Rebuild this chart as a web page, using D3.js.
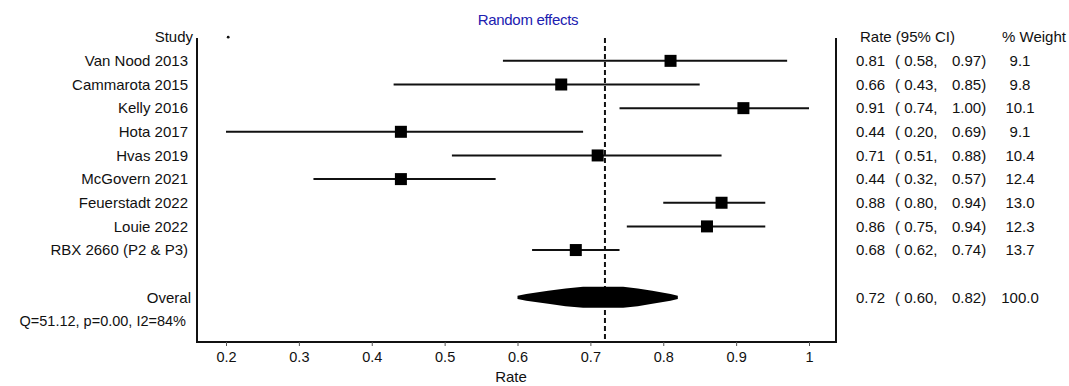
<!DOCTYPE html>
<html>
<head>
<meta charset="utf-8">
<script src="https://cdn.jsdelivr.net/npm/d3@7"></script>
<style>
  body { margin: 0; background: #fff; }
  svg { display: block; font-family: "Liberation Sans", Arial, sans-serif; }
  text { fill: #111; white-space: pre; }
</style>
</head>
<body>
<svg id="chart"></svg>
<script>
const STUDIES = ["Van Nood 2013", "Cammarota 2015", "Kelly 2016", "Hota 2017", "Hvas 2019",
  "McGovern 2021", "Feuerstadt 2022", "Louie 2022", "RBX 2660 (P2 & P3)"];
const RATES = [0.81, 0.66, 0.91, 0.44, 0.71, 0.44, 0.88, 0.86, 0.68];
const LOWER = [0.58, 0.43, 0.74, 0.20, 0.51, 0.32, 0.80, 0.75, 0.62];
const UPPER = [0.97, 0.85, 1.00, 0.69, 0.88, 0.57, 0.94, 0.94, 0.74];
const WEIGHTS = ["9.1", "9.8", "10.1", "9.1", "10.4", "12.4", "13.0", "12.3", "13.7"];
const OVERALL = { label: "Overal", rate: 0.72, lower: 0.60, upper: 0.82, weight: "100.0" };
const HETERO = "Q=51.12, p=0.00, I2=84%";
const X_TICKS = [0.2, 0.3, 0.4, 0.5, 0.6, 0.7, 0.8, 0.9, 1];

const width = 1069, height = 386;
const frame = { left: 197, right: 836, top: 38, bottom: 342 };

const svg = d3.select("#chart").attr("width", width).attr("height", height);

const x = d3.scaleLinear().domain([0.2, 1]).range([226, 809]);
// row 0 = header, studies 1..9, blank row, overall 11, heterogeneity 12
const y = d3.scaleLinear().domain([0, 12]).range([37.2, 321]);

const rows = STUDIES.map((s, i) => ({
  study: s, rate: RATES[i], lo: LOWER[i], hi: UPPER[i], w: WEIGHTS[i], row: i + 1
}));
const overallRow = 11;

const fmt = d3.format(".2f");

// frame
svg.append("path")
  .attr("d", `M${frame.left},${frame.top}V${frame.bottom}H${frame.right}V${frame.top}`)
  .attr("fill", "none")
  .attr("stroke", "#111")
  .attr("stroke-width", 2);

// axis ticks
svg.append("g")
  .attr("transform", `translate(0,${frame.bottom})`)
  .call(d3.axisBottom(x).tickValues(X_TICKS).tickSize(4).tickPadding(6).tickFormat(d => d === 1 ? "1" : d3.format(".1f")(d)))
  .call(g => g.select(".domain").remove())
  .call(g => g.selectAll(".tick line").attr("stroke", "#555"))
  .call(g => g.selectAll(".tick text").attr("font-size", 14.5).attr("fill", "#111")
    .attr("font-family", "Liberation Sans, Arial, sans-serif"));

svg.append("text")
  .attr("x", 511)
  .attr("y", 377)
  .attr("dy", "0.35em")
  .attr("text-anchor", "middle")
  .attr("font-size", 15)
  .text("Rate");

svg.append("text")
  .attr("x", 528)
  .attr("y", 20)
  .attr("dy", "0.35em")
  .attr("text-anchor", "middle")
  .attr("font-size", 15)
  .attr("letter-spacing", -0.3)
  .style("fill", "#2020b0")
  .text("Random effects");

// overall estimate line
svg.append("line")
  .attr("x1", x(OVERALL.rate)).attr("x2", x(OVERALL.rate))
  .attr("y1", frame.top).attr("y2", frame.bottom)
  .attr("stroke", "#111")
  .attr("stroke-width", 2)
  .attr("stroke-dasharray", "5,3");

// tiny mark at the header row
svg.append("circle")
  .attr("cx", x(0.203)).attr("cy", y(0))
  .attr("r", 1.4)
  .attr("fill", "#111");

// CI lines
svg.selectAll("line.ci")
  .data(rows)
  .join("line")
  .attr("class", "ci")
  .attr("x1", d => x(d.lo)).attr("x2", d => x(d.hi))
  .attr("y1", d => y(d.row)).attr("y2", d => y(d.row))
  .attr("stroke", "#111")
  .attr("stroke-width", 2);

const box = 12;
svg.selectAll("rect.est")
  .data(rows)
  .join("rect")
  .attr("class", "est")
  .attr("x", d => x(d.rate) - box / 2)
  .attr("y", d => y(d.row) - box / 2)
  .attr("width", box)
  .attr("height", box)
  .attr("fill", "#000");

// overall "diamond": a bulging lens from lower to upper CI
const oy = y(overallRow);
const halfH = 10.5;
// profile: fraction of the way from an end to the estimate -> fraction of full half-height
const profile = [[0, 0.15], [0.1, 0.33], [0.35, 0.62], [0.55, 0.85], [0.75, 1], [1, 1]];
const leftSide = profile.map(([f, h]) => [x(OVERALL.lower) + f * (x(OVERALL.rate) - x(OVERALL.lower)), h]);
const rightSide = profile.slice().reverse().map(([f, h]) => [x(OVERALL.upper) - f * (x(OVERALL.upper) - x(OVERALL.rate)), h]);
const outline = leftSide.concat(rightSide);
const upperEdge = outline.map(([px, h]) => [px, oy - h * halfH]);
const lowerEdge = outline.slice().reverse().map(([px, h]) => [px, oy + h * halfH]);
svg.append("path")
  .attr("d", d3.line()(upperEdge.concat(lowerEdge)) + "Z")
  .attr("fill", "#000");

// left labels
svg.append("text")
  .attr("x", 193).attr("y", y(0)).attr("dy", "0.35em")
  .attr("text-anchor", "end").attr("font-size", 15)
  .text("Study");

svg.selectAll("text.study")
  .data(rows)
  .join("text")
  .attr("class", "study")
  .attr("x", 188)
  .attr("y", d => y(d.row))
  .attr("dy", "0.35em")
  .attr("text-anchor", "end")
  .attr("font-size", 15)
  .text(d => d.study);

svg.append("text")
  .attr("x", 191).attr("y", oy).attr("dy", "0.35em")
  .attr("text-anchor", "end").attr("font-size", 15)
  .text(OVERALL.label);

svg.append("text")
  .attr("x", 186).attr("y", y(12)).attr("dy", "0.35em")
  .attr("text-anchor", "end").attr("font-size", 14.5)
  .text(HETERO);

// right columns
svg.append("text")
  .attr("x", 860).attr("y", y(0)).attr("dy", "0.35em")
  .attr("font-size", 15)
  .text("Rate (95% CI)");
svg.append("text")
  .attr("x", 1002).attr("y", y(0)).attr("dy", "0.35em")
  .attr("font-size", 15)
  .text("% Weight");

const tableRows = rows.concat([{ rate: OVERALL.rate, lo: OVERALL.lower, hi: OVERALL.upper, w: OVERALL.weight, row: overallRow }]);

const cells = svg.selectAll("g.cells")
  .data(tableRows)
  .join("g")
  .attr("class", "cells")
  .attr("transform", d => `translate(0,${y(d.row)})`);

cells.append("text").attr("x", 856).attr("dy", "0.35em").attr("font-size", 15)
  .text(d => fmt(d.rate));
cells.append("text").attr("x", 895).attr("dy", "0.35em").attr("font-size", 15)
  .text(d => `( ${fmt(d.lo)},`);
cells.append("text").attr("x", 952).attr("dy", "0.35em").attr("font-size", 15)
  .text(d => `${fmt(d.hi)})`);
cells.append("text").attr("x", 1020).attr("dy", "0.35em").attr("text-anchor", "middle").attr("font-size", 15)
  .text(d => d.w);
</script>
</body>
</html>
